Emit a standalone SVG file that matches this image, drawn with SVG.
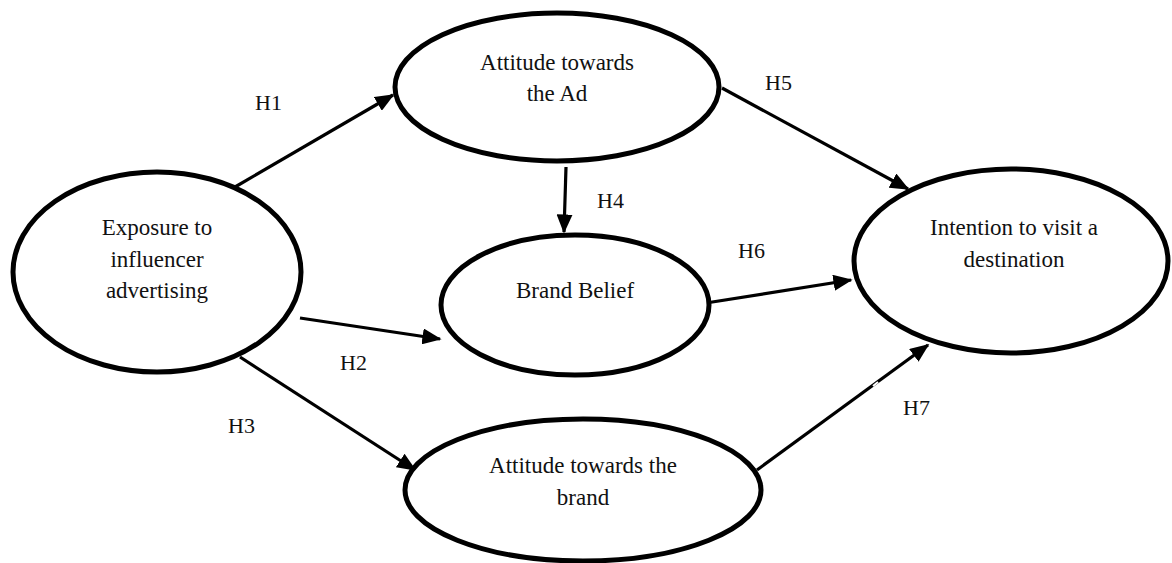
<svg xmlns="http://www.w3.org/2000/svg" width="1172" height="563" viewBox="0 0 1172 563">
<style>
.node ellipse{fill:#fff;stroke:#000;stroke-width:5}
text{font-family:'Liberation Serif','Times New Roman','DejaVu Serif',serif;font-size:23px;fill:#111;text-anchor:middle}
.lbl{font-size:22px;text-anchor:start}
.conn line{stroke:#000;stroke-width:3.2}
</style>
<defs>
<marker id="ah" markerWidth="6" markerHeight="5" refX="5.5" refY="2.5" orient="auto" markerUnits="strokeWidth">
<path d="M0,0 L6,2.5 L0,5 Z" fill="#000"/>
</marker>
</defs>
<rect width="1172" height="563" fill="#fff"/>
<g class="conn">
<line x1="235" y1="187" x2="393" y2="95" marker-end="url(#ah)"/>
<line x1="566" y1="167" x2="564" y2="232" marker-end="url(#ah)"/>
<line x1="300" y1="318" x2="440" y2="339" marker-end="url(#ah)"/>
<line x1="240" y1="357" x2="415" y2="470" marker-end="url(#ah)"/>
<line x1="722" y1="88" x2="908" y2="189" marker-end="url(#ah)"/>
<line x1="706" y1="303" x2="851" y2="280" marker-end="url(#ah)"/>
<line x1="757" y1="470" x2="928" y2="345" marker-end="url(#ah)"/>
<line x1="873" y1="386" x2="878" y2="382" style="stroke:#fff;stroke-width:2"/>
</g>
<g id="exposure" class="node">
<ellipse cx="157" cy="272" rx="144" ry="100"/>
<text x="157" y="235" font-family="Liberation Serif, serif">Exposure to</text>
<text x="157" y="267" font-family="Liberation Serif, serif">influencer</text>
<text x="157" y="298" font-family="Liberation Serif, serif">advertising</text>
</g>
<g id="attitude-ad" class="node">
<ellipse cx="557" cy="87" rx="162" ry="74"/>
<text x="557" y="70">Attitude towards</text>
<text x="557" y="101">the Ad</text>
</g>
<g id="brand-belief" class="node">
<ellipse cx="575" cy="305" rx="134" ry="70"/>
<text x="575" y="298">Brand Belief</text>
</g>
<g id="attitude-brand" class="node">
<ellipse cx="583" cy="490" rx="178" ry="71"/>
<text x="583" y="473">Attitude towards the</text>
<text x="583" y="505">brand</text>
</g>
<g id="intention" class="node">
<ellipse cx="1011" cy="261" rx="157" ry="92"/>
<text x="1014" y="235">Intention to visit a</text>
<text x="1014" y="267">destination</text>
</g>
<g id="labels">
<text class="lbl" x="255" y="110">H1</text>
<text class="lbl" x="340" y="370">H2</text>
<text class="lbl" x="228" y="433">H3</text>
<text class="lbl" x="597" y="208">H4</text>
<text class="lbl" x="765" y="90">H5</text>
<text class="lbl" x="738" y="258">H6</text>
<text class="lbl" x="903" y="415">H7</text>
</g>
</svg>
